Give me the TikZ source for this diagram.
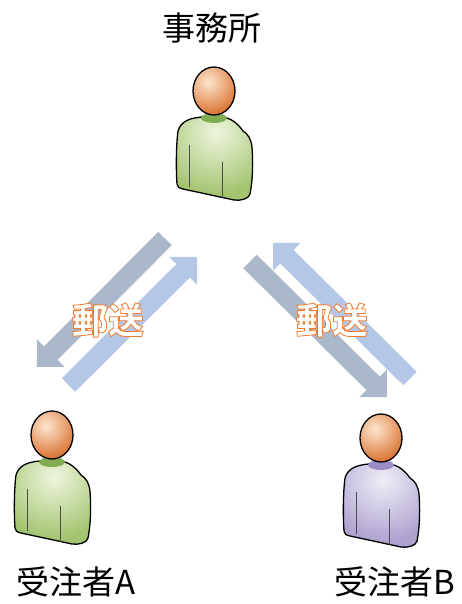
\documentclass[tikz,border=0pt]{standalone}
\usepackage{fontspec}
\newfontfamily\jp{Noto Sans CJK JP}
\usetikzlibrary{calc}

\definecolor{arrowdark}{HTML}{ABB8CA}
\definecolor{arrowlight}{HTML}{B4C7E7}
\definecolor{skinhi}{HTML}{FDE6CF}
\definecolor{skinlo}{HTML}{D96F2C}
\definecolor{greenhi}{HTML}{EEF5DE}
\definecolor{greenlo}{HTML}{A3C46F}
\definecolor{greenneck}{HTML}{82AC52}
\definecolor{purplehi}{HTML}{F0EDF7}
\definecolor{purplelo}{HTML}{ADA2CF}
\definecolor{purpleneck}{HTML}{9A8DC4}

% white letters with an orange outline (fill + stroke text rendering)
\newcommand\outlined[1]{%
  \special{pdf:code q 2 Tr 0.8 w 1 J 1 j 0.941 0.478 0.173 RG 1 1 1 rg}#1\special{pdf:code Q}}

% block arrow from tail #1 to tip #2, filled with colour #3
\newcommand\blockarrow[3]{%
  \coordinate (ab) at ($(#2)!19.5pt!(#1)$);
  \fill[#3] ($(#1)!9.5pt!90:(#2)$) -- ($(ab)!9.5pt!90:(#2)$)
    -- ($(ab)!19.5pt!90:(#2)$) -- (#2) -- ($(ab)!19.5pt!-90:(#2)$)
    -- ($(ab)!9.5pt!-90:(#2)$) -- ($(#1)!9.5pt!-90:(#2)$) -- cycle;}

\tikzset{
  outline/.style={draw=black, line width=1.3pt, line join=round},
  title/.style={font=\jp\fontsize{33}{38}\selectfont, inner sep=0pt},
  mail/.style={font=\jp\bfseries\fontsize{36}{40}\selectfont, inner sep=0pt},
  % user icon: #1 light, #2 dark, #3 neck colour
  pics/person/.style n args={3}{code={
    \path[outline, path picture={
        \fill[#2] (path picture bounding box.south west) rectangle (path picture bounding box.north east);
        \shade[inner color=#1, outer color=#2] (2,42) circle (62);
      }]
      (-12,26) .. controls (-24,27) and (-33,30) .. (-36,40)
      .. controls (-38,55) and (-38,80) .. (-37,93)
      .. controls (-37,96) and (-35,97) .. (-31,98)
      -- (20,109)
      .. controls (26,110) and (35,108) .. (36,103)
      .. controls (39,88) and (39,70) .. (38,56)
      .. controls (37,48) and (34,43) .. (29,40)
      .. controls (24,33) and (19,29) .. (13,27)
      -- cycle;
    \draw[line width=0.6pt, black!70] (-25,54) -- (-25,96);
    \draw[line width=0.6pt, black!70] (8,71) -- (8,107);
    \fill[#3] (0,27) ellipse (13 and 5);
    \path[outline, path picture={
        \shade[inner color=skinhi, outer color=skinlo] (-6,-9) circle (34);
      }] (0,0) ellipse (21 and 24);
  }}
}

\begin{document}
\begin{tikzpicture}[x=1pt, y=-1pt]
  \fill[white] (0,0) rectangle (461,604);
  \useasboundingbox (0,0) rectangle (461,604);

  % people
  \pic (office) at (214,91) {person={greenhi}{greenlo}{greenneck}};
  \pic (userA) at (52,435) {person={greenhi}{greenlo}{greenneck}};
  \pic (userB) at (381,438) {person={purplehi}{purplelo}{purpleneck}};

  \node[title] (officelabel) at (212,28) {事務所};
  \node[title] (userAlabel) at (76,582) {受注者A};
  \node[title] (userBlabel) at (395,582) {受注者B};

  % shipping arrows
  \coordinate (lt1) at (165,238.5);  \coordinate (lh1) at (37,367);
  \coordinate (lt2) at (68.5,385);   \coordinate (lh2) at (197,257);
  \coordinate (rt1) at (250,261.5);  \coordinate (rh1) at (387,397);
  \coordinate (rt2) at (410,378.5);  \coordinate (rh2) at (273,243);
  \blockarrow{lt1}{lh1}{arrowdark}
  \blockarrow{lt2}{lh2}{arrowlight}
  \blockarrow{rt1}{rh1}{arrowdark}
  \blockarrow{rt2}{rh2}{arrowlight}

  \node[mail] (mailA) at (108,320) {\outlined{郵送}};
  \node[mail] (mailB) at (332,320) {\outlined{郵送}};
\end{tikzpicture}
\end{document}
